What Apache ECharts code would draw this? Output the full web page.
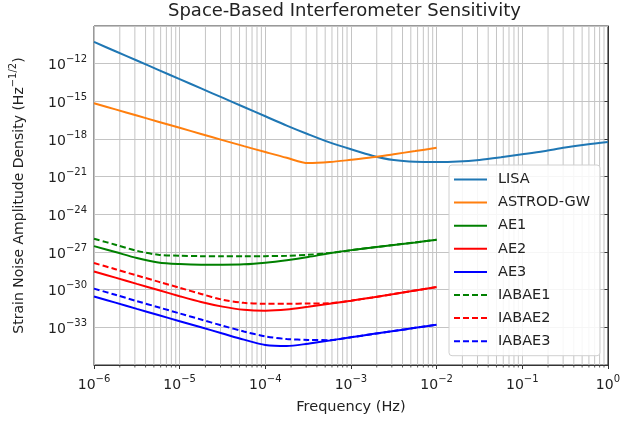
<!DOCTYPE html>
<html>
<head>
<meta charset="utf-8">
<script src="https://cdn.jsdelivr.net/npm/echarts@6/dist/echarts.min.js"></script>
<style>
html, body { margin: 0; padding: 0; background: #fff; }
#chart { width: 623px; height: 421px; }
</style>
</head>
<body>
<div id="chart"></div>
<script>
// log10 of frequency (Hz) and log10 of strain noise
var freqExp = [-6, -5.75, -5.5, -5.25, -5, -4.75, -4.5, -4.25, -4, -3.75, -3.5, -3.25, -3,
    -2.75, -2.5, -2.25, -2, -1.75, -1.5, -1.25, -1, -0.75, -0.5, -0.25, 0];
var lisa = [-10.27, -11.01, -11.75, -12.49, -13.23, -13.97, -14.71, -15.45, -16.19, -16.93, -17.62, -18.27, -18.82,
    -19.33, -19.68, -19.82, -19.84, -19.8, -19.67, -19.46, -19.22, -18.97, -18.68, -18.44, -18.24];
var astrod = [-15.15, -15.64, -16.13, -16.62, -17.11, -17.6, -18.09, -18.57, -19.04, -19.5, -19.92, -19.84, -19.66,
    -19.46, -19.21, -18.96, -18.7];
var ae1 = [-26.53, -27.0, -27.48, -27.83, -27.96, -28.01, -28.01, -27.98, -27.85, -27.65, -27.4, -27.1, -26.85,
    -26.64, -26.44, -26.24, -26.03];
var ae2 = [-28.55, -29.04, -29.54, -30.03, -30.52, -30.98, -31.35, -31.6, -31.67, -31.58, -31.36, -31.12, -30.88,
    -30.62, -30.35, -30.07, -29.79];
var ae3 = [-30.54, -31.03, -31.53, -32.02, -32.51, -33.0, -33.49, -33.98, -34.4, -34.49, -34.3, -34.05, -33.79,
    -33.54, -33.29, -33.04, -32.79];
var iabae1 = [-25.95, -26.42, -26.9, -27.22, -27.3, -27.33, -27.34, -27.34, -27.33, -27.3, -27.22, -27.08, -26.86,
    -26.64, -26.44, -26.24, -26.03];
var iabae2 = [-27.88, -28.37, -28.87, -29.36, -29.85, -30.34, -30.8, -31.05, -31.12, -31.12, -31.1, -31.08, -30.88,
    -30.62, -30.35, -30.07, -29.79];
var iabae3 = [-29.92, -30.41, -30.91, -31.4, -31.89, -32.38, -32.87, -33.33, -33.72, -33.93, -34.0, -34.02, -33.79,
    -33.54, -33.29, -33.04, -32.79];

var xMin = -6, xMax = 0, yMin = -36, yMax = -9;

// minor decade positions 2..9 for the x grid
var minorFreq = [];
for (var n = xMin; n < xMax; n++) {
    for (var k = 2; k <= 9; k++) {
        minorFreq.push([n + Math.log10(k), yMin]);
    }
}

var textColor = '#222';
var font = 'DejaVu Sans';
var gridColor = '#c4c4c4';
var spineColor = '#333';

function pair(ys) {
    return ys.map(function (y, i) { return [freqExp[i], y]; });
}
function supText(v) {
    var e = Math.round(v);
    return e < 0 ? '\u2212' + (-e) : '' + e;
}
var powRich = {
    b: { fontSize: 14, fontFamily: font, color: textColor, verticalAlign: 'bottom', lineHeight: 18 },
    s: { fontSize: 10, fontFamily: font, color: textColor, verticalAlign: 'top', lineHeight: 12 }
};

function lineSeries(name, ys, color, dashed) {
    return {
        name: name,
        type: 'line',
        data: pair(ys),
        symbol: 'none',
        smooth: 0.3,
        z: 3,
        lineStyle: { color: color, width: 2, type: dashed ? [6, 3] : 'solid' },
        itemStyle: { color: color }
    };
}

var chart = echarts.init(document.getElementById('chart'));
var option = {
    animation: false,
    backgroundColor: '#fff',
    title: {
        text: 'Space-Based Interferometer Sensitivity',
        left: 168,
        top: 2,
        padding: 0,
        textStyle: { fontSize: 18, fontWeight: 'normal', color: textColor, fontFamily: font }
    },
    grid: {
        left: 93, right: 13, top: 26, bottom: 56,
        show: true, borderColor: spineColor, borderWidth: 1, backgroundColor: 'transparent'
    },
    legend: {
        orient: 'vertical',
        left: 449, top: 165,
        padding: [7, 10, 7, 4],
        itemWidth: 33, itemHeight: 14, itemGap: 8.1,
        itemStyle: { opacity: 0 },
        backgroundColor: 'rgba(255,255,255,0.85)',
        borderColor: '#d0d0d0', borderWidth: 1, borderRadius: 3,
        textStyle: { fontSize: 14.5, color: textColor, fontFamily: font, padding: [0, 0, 0, 6] },
        data: ['LISA', 'ASTROD-GW', 'AE1', 'AE2', 'AE3', 'IABAE1', 'IABAE2', 'IABAE3']
    },
    xAxis: {
        type: 'value',
        min: xMin, max: xMax, interval: 1,
        name: 'Frequency (Hz)',
        nameLocation: 'middle', nameGap: 35,
        nameTextStyle: { fontSize: 14.5, color: textColor, fontFamily: font },
        axisLine: { lineStyle: { color: spineColor } },
        axisTick: { length: 4, lineStyle: { color: spineColor } },
        axisLabel: {
            margin: 9,
            formatter: function (v) { return '{b|10}{s|' + supText(v) + '}'; },
            rich: powRich
        },
        splitLine: { show: true, lineStyle: { color: gridColor, width: 1 } }
    },
    yAxis: {
        type: 'value',
        min: yMin, max: yMax, interval: 3,
        name: '{n|Strain Noise Amplitude Density (Hz}{s|\u22121/2}{n|)}',
        nameLocation: 'middle', nameGap: 68, nameRotate: 90,
        nameTextStyle: {
            rich: {
                n: { fontSize: 14, color: textColor, fontFamily: font, verticalAlign: 'bottom', lineHeight: 18 },
                s: { fontSize: 10, color: textColor, fontFamily: font, verticalAlign: 'top', lineHeight: 12 }
            }
        },
        axisLine: { lineStyle: { color: spineColor } },
        axisTick: { length: 4, lineStyle: { color: spineColor } },
        axisLabel: {
            margin: 7,
            showMinLabel: false, showMaxLabel: false,
            formatter: function (v) { return '{b|10}{s|' + supText(v) + '}'; },
            rich: powRich
        },
        splitLine: { show: true, lineStyle: { color: gridColor, width: 1 } }
    },
    series: [
        {
            type: 'custom',
            silent: true,
            z: 1,
            data: minorFreq,
            renderItem: function (params, api) {
                var top = api.coord([api.value(0), yMax]);
                var bot = api.coord([api.value(0), yMin]);
                return {
                    type: 'group',
                    children: [{
                        type: 'line',
                        shape: { x1: top[0], y1: top[1], x2: bot[0], y2: bot[1] },
                        style: { stroke: gridColor, lineWidth: 1 }
                    }, {
                        type: 'line',
                        shape: { x1: bot[0], y1: bot[1], x2: bot[0], y2: bot[1] + 2.5 },
                        style: { stroke: spineColor, lineWidth: 0.8 }
                    }]
                };
            }
        },
        lineSeries('LISA', lisa, '#1f77b4', false),
        lineSeries('ASTROD-GW', astrod, '#ff7f0e', false),
        lineSeries('AE1', ae1, '#008000', false),
        lineSeries('AE2', ae2, '#ff0000', false),
        lineSeries('AE3', ae3, '#0000ff', false),
        lineSeries('IABAE1', iabae1, '#008000', true),
        lineSeries('IABAE2', iabae2, '#ff0000', true),
        lineSeries('IABAE3', iabae3, '#0000ff', true)
    ]
};
chart.setOption(option);
</script>
</body>
</html>
